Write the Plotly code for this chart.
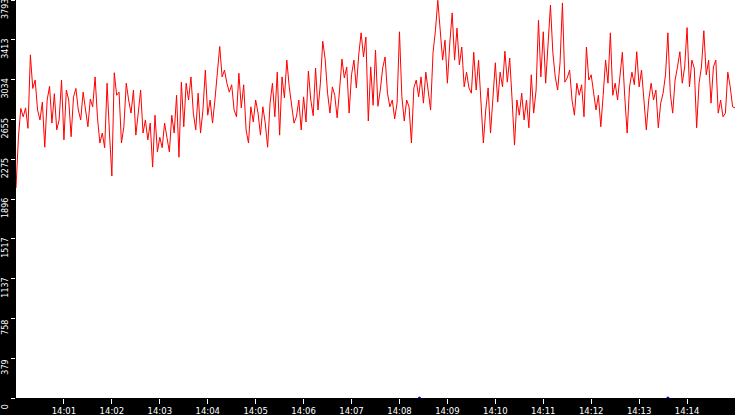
import pandas as pd
import plotly.graph_objects as go

# campioni ogni 3 secondi, 14:00:00 -> 14:15:00
vals_00 = [2000, 2480, 2760, 2680, 2765, 2570, 3270, 2950, 3030, 2745,
           2650, 2820, 2390, 2840, 2970, 2620, 2900, 2555, 2650, 3030,
           2460, 2935, 2840, 2490, 2870, 2950, 2745, 2650, 2915, 2725,
           2585, 2850, 2775, 3060, 2670, 2430, 2525, 2385, 3000, 2525,
           2115, 3100, 2885, 2915, 2430, 2585, 3000, 2840, 2715, 2935]
vals_02 = [2505, 2715, 2935, 2525, 2650, 2460, 2620, 2200, 2695, 2345,
           2485, 2385, 2620, 2480, 2345, 2695, 2525, 2885, 2295, 3010,
           2585, 3000, 2840, 3060, 2715, 2555, 2905, 2525, 2745, 3125,
           2695, 2840, 2620, 2840, 3105, 3350, 3060, 3125, 3000, 2915,
           2985, 2745, 2680, 3095, 2765, 2985, 2555, 2430, 2775, 2630]
vals_05 = [2840, 2715, 2505, 2775, 2620, 2390, 2810, 3000, 2680, 3105,
           2505, 3060, 2860, 3220, 2965, 2775, 2620, 2680, 2840, 2555,
           2870, 2630, 3115, 2840, 2690, 3145, 2745, 3000, 3400, 3230,
           2905, 2715, 2965, 2885, 2670, 2935, 3230, 3050, 3155, 2715,
           3080, 3220, 2955, 3270, 3480, 3250, 3440, 2640, 3155, 2790]
vals_07 = [3315, 2780, 2935, 3145, 3250, 2905, 2775, 2840, 2660, 2810,
           3490, 2870, 2640, 2840, 2775, 2430, 2955, 3030, 2870, 3060,
           2810, 3105, 2905, 2745, 3290, 3500, 3790, 3480, 3220, 3410,
           3000, 3385, 3670, 3220, 3525, 3175, 3345, 2965, 3105, 2955,
           2905, 3295, 2935, 3220, 2870, 2430, 2745, 2955, 2525, 2870]
vals_10 = [3195, 2820, 3105, 2965, 3305, 3010, 3240, 2840, 2410, 2840,
           2695, 2905, 2650, 2840, 2575, 3080, 2715, 2935, 3600, 3060,
           3490, 3000, 3365, 3745, 3290, 3060, 2935, 3195, 3765, 3010,
           3050, 3125, 2840, 2695, 3000, 2885, 2985, 2680, 3345, 3030,
           3080, 2885, 2745, 2885, 2585, 2885, 3220, 3000, 3480, 2885]
vals_12 = [3000, 2840, 3105, 3295, 2870, 2525, 2965, 3105, 2985, 3300,
           2965, 3125, 2840, 2555, 2840, 3000, 2840, 2935, 2575, 2810,
           2905, 3080, 3480, 2905, 2715, 3030, 3155, 3300, 3000, 3155,
           3530, 2965, 3220, 3145, 2575, 3000, 3155, 3500, 3080, 3220,
           2810, 3155, 3220, 2715, 2840, 2680, 2715, 3105, 2965, 2775,
           2765]

# punti blu sul fondo
blue_times = ["2024-01-01 14:08:25", "2024-01-01 14:13:36"]
blue_vals = [0, 0]

y_ticks = [0, 379, 758, 1137, 1517, 1896, 2275, 2655, 3034, 3413, 3793]
x_ticks = ["14:01", "14:02", "14:03", "14:04", "14:05", "14:06", "14:07",
           "14:08", "14:09", "14:10", "14:11", "14:12", "14:13", "14:14"]

values = vals_00 + vals_02 + vals_05 + vals_07 + vals_10 + vals_12
times = pd.date_range("2024-01-01 14:00:00", periods=len(values), freq="3s")
tick_times = ["2024-01-01 " + t + ":00" for t in x_ticks]

fig = go.Figure()

fig.add_trace(go.Scatter(
    x=times,
    y=values,
    mode="lines",
    line=dict(color="#ff0000", width=1),
    showlegend=False
))

fig.add_trace(go.Scatter(
    x=pd.to_datetime(blue_times),
    y=blue_vals,
    mode="markers",
    marker=dict(color="#0000ff", size=3),
    showlegend=False
))

fig.update_layout(
    width=735,
    height=415,
    margin=dict(l=16, r=0, t=0, b=17, autoexpand=False),
    paper_bgcolor="#000000",
    plot_bgcolor="#ffffff",
    font=dict(family="DejaVu Sans", color="#ffffff"),
    xaxis=dict(
        range=["2024-01-01 14:00:00", "2024-01-01 14:15:00"],
        tickvals=tick_times,
        ticktext=x_ticks,
        ticks="outside",
        ticklen=5,
        tickcolor="#ffffff",
        tickfont=dict(size=8.5, color="#ffffff"),
        ticklabelstandoff=0,
        showgrid=False,
        zeroline=False,
        showline=False
    ),
    yaxis=dict(
        range=[0, 3793],
        tickvals=y_ticks,
        ticktext=[str(v) for v in y_ticks],
        tickangle=-90,
        ticks="outside",
        ticklen=4,
        tickcolor="#ffffff",
        tickfont=dict(size=8, color="#ffffff"),
        ticklabelshift=10,
        ticklabelstandoff=0,
        ticklabeloverflow="allow",
        showgrid=False,
        zeroline=False,
        showline=False
    )
)

# niente margine del body, la figura parte da (0, 0)
fig.write_html(
    "out.html",
    config={"displayModeBar": False},
    post_script="document.body.style.margin='0';"
)
